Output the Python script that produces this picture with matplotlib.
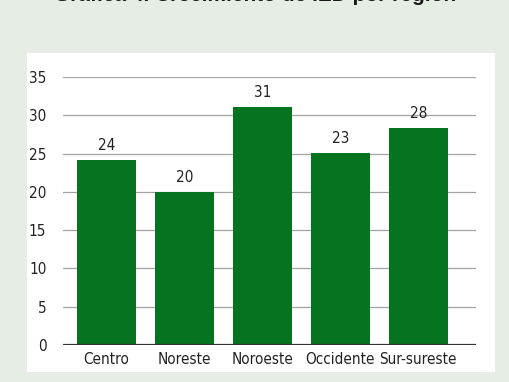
import matplotlib
matplotlib.use("Agg")
import matplotlib.pyplot as plt
from matplotlib.patches import Rectangle

BG = "#E6EDE5"
GREEN = "#05731F"
GRID = "#A3A3A3"

regions = ["Centro", "Noreste", "Noroeste", "Occidente", "Sur-sureste"]
heights = [24.2, 20.0, 31.1, 25.1, 28.3]
labels = ["24", "20", "31", "23", "28"]
yticks = [0, 5, 10, 15, 20, 25, 30, 35]

plt.rcParams["font.family"] = ["DejaVu Sans"]
plt.rcParams["font.stretch"] = "condensed"

fig = plt.figure(figsize=(5.1, 3.82), dpi=100, facecolor=BG)

# white panel behind the chart
fig.patches.append(Rectangle((0.053, 0.026), 0.918, 0.835, transform=fig.transFigure,
                             facecolor="white", edgecolor="none", zorder=0))

# title, mostly cut off at the top of the image (as in the source)
fig.text(0.5, 0.998, "Gráfica 4. Crecimiento de IED por región", ha="center", va="baseline",
         fontsize=15, fontweight="bold", color="#1a1a1a",
         family=["Liberation Sans", "DejaVu Sans"], fontstretch="normal")

ax = fig.add_axes([0.1235, 0.0969, 0.8098, 0.7016])
ax.set_zorder(2)
ax.set_facecolor("white")
x = range(len(regions))
bars = ax.bar(x, heights, width=0.756, color=GREEN, zorder=3)
for b, lab in zip(bars, labels):
    ax.annotate(lab, (b.get_x() + b.get_width() / 2, b.get_height()),
                xytext=(0, 5), textcoords="offset points",
                ha="center", va="bottom", fontsize=11, color="#222222")

ax.set_xlim(-0.56, 4.74)
ax.set_ylim(0, 35)
ax.set_yticks(yticks)
ax.set_xticks(list(x))
ax.set_xticklabels(regions)
ax.tick_params(axis="both", length=0, labelsize=11, colors="#222222")
ax.tick_params(axis="y", pad=12)
ax.tick_params(axis="x", pad=5)
for y in yticks[1:]:
    ax.axhline(y, color=GRID, linewidth=0.9, zorder=1)
ax.axhline(0, color="#333333", linewidth=1.6, zorder=4)
for s in ax.spines.values():
    s.set_visible(False)

fig.savefig("out.png", dpi=100, facecolor=BG)
